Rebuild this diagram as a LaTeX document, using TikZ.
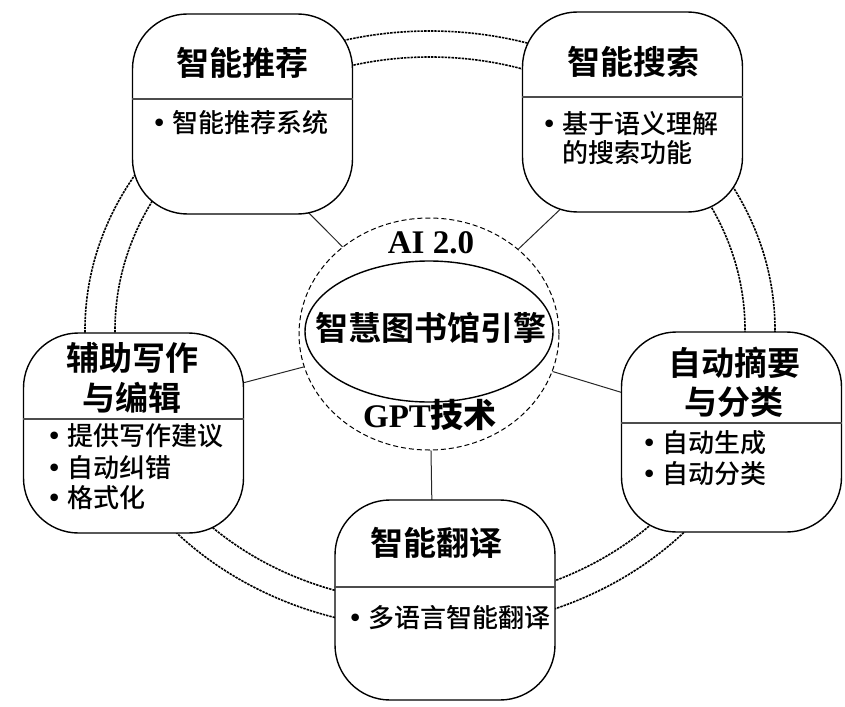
\documentclass[tikz,border=0pt]{standalone}
\usepackage{fontspec}
\setmainfont{Liberation Serif}
\newfontfamily\cjk{Noto Sans CJK SC Medium}
\newfontfamily\cjkb{Noto Sans CJK SC Bold}
\newfontfamily\bulfont{DejaVu Sans}
\newcommand{\bul}{{\bulfont •}\hspace{5pt}}
\usetikzlibrary{shapes.geometric}
\tikzset{
 ring/.style={line width=1.6pt, dash pattern=on 2.4pt off 1pt, black},
 boxnode/.style={draw=black, line width=1.4pt, fill=white, rounded corners=55pt, minimum width=220pt, minimum height=200pt, inner sep=0pt},
 divider/.style={draw=black!70, line width=1.2pt},
 conn/.style={draw=black!85, line width=1pt},
 title/.style={font=\cjkb\fontsize{33}{40}\selectfont, inner sep=0pt, anchor=base},
 body/.style={font=\cjk\fontsize{26}{31}\selectfont, inner sep=0pt, anchor=base west},
 latin/.style={font=\bfseries\fontsize{33}{40}\selectfont, inner sep=0pt, anchor=base},
 hub/.style={ellipse, draw=black, line width=1pt, dash pattern=on 5pt off 3pt, fill=white, minimum width=260pt, minimum height=232pt, inner sep=0pt},
 core/.style={ellipse, draw=black, line width=1.4pt, minimum width=248pt, minimum height=141pt, inner sep=0pt},
}
\begin{document}
\begin{tikzpicture}[x=1pt,y=-1pt]
\useasboundingbox (0,0) rectangle (845,706);
% outer double ring
\draw[ring] (430,330) ellipse [x radius=345pt, y radius=299pt];
\draw[ring] (430,330) ellipse [x radius=315pt, y radius=273pt];
% hub
\node[hub] (cc) at (429,334) {};
\node[core] (core) at (429,331.5) {};
\node[latin] (ai) at (431,253) {AI 2.0};
\node[title] (eng) at (431,340.5) {智慧图书馆引擎};
\node[latin] (gpt) at (430,427) {GPT{\cjkb 技术}};
% connector ends (inside boxes)
\coordinate (k1) at (300,204);
\coordinate (k2) at (570,200);
\coordinate (k3) at (235,385);
\coordinate (k4) at (630,395);
\coordinate (k5) at (432,510);
\draw[conn] (cc) -- (k1);
\draw[conn] (cc) -- (k2);
\draw[conn] (cc) -- (k3);
\draw[conn] (cc) -- (k4);
\draw[conn] (cc) -- (k5);
% boxes
\node[boxnode] (b1) at (242.5,114) {};
\node[boxnode] (b2) at (632.5,112) {};
\node[boxnode] (b3) at (133.5,433) {};
\node[boxnode] (b4) at (731.5,432) {};
\node[boxnode] (b5) at (445,600) {};
\draw[divider] (b1.west |- 0,99) -- (b1.east |- 0,99);
\draw[divider] (b2.west |- 0,97) -- (b2.east |- 0,97);
\draw[divider] (b3.west |- 0,419) -- (b3.east |- 0,419);
\draw[divider] (b4.west |- 0,423) -- (b4.east |- 0,423);
\draw[divider] (b5.west |- 0,587) -- (b5.east |- 0,587);
% titles
\node[title] (h1) at (242,75.5) {智能推荐};
\node[title] (h2) at (633,74.5) {智能搜索};
\node[title] (h3a) at (132,370.5) {辅助写作};
\node[title] (h3b) at (132,410.5) {与编辑};
\node[title] (h4a) at (734,375.5) {自动摘要};
\node[title] (h4b) at (734,414.5) {与分类};
\node[title] (h5) at (436,555.5) {智能翻译};
% bodies
\node[body] (p1) at (151.5,132) {\bul 智能推荐系统};
\node[body] (p2a) at (541.5,133) {\bul 基于语义理解};
\node[body] (p2b) at (562,162) {的搜索功能};
\node[body] (p3a) at (46.5,445) {\bul 提供写作建议};
\node[body] (p3b) at (46.5,477) {\bul 自动纠错};
\node[body] (p3c) at (46.5,507) {\bul 格式化};
\node[body] (p4a) at (641.5,452) {\bul 自动生成};
\node[body] (p4b) at (641.5,483) {\bul 自动分类};
\node[body] (p5) at (347.5,627) {\bul 多语言智能翻译};
\end{tikzpicture}
\end{document}
